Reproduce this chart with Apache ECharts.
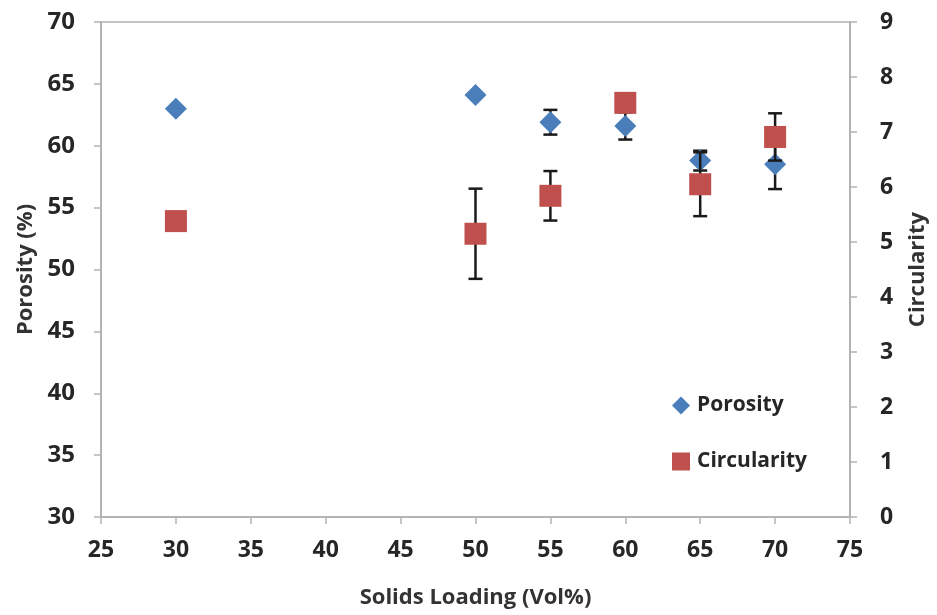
<!DOCTYPE html>
<html><head><meta charset="utf-8">
<script src="https://cdn.jsdelivr.net/npm/echarts@6/dist/echarts.min.js"></script>
<style>html,body{margin:0;padding:0;background:#fff}#c{width:937px;height:615px}</style>
</head><body><div id="c"></div>
<script>
const solids = [30, 50, 55, 60, 65, 70];
const porosity = [63.0, 64.1, 61.9, 61.6, 58.8, 58.5];
const porosityErr = [0, 0, 1.0, 1.1, 0.8, 2.0];
const circularity = [5.38, 5.15, 5.84, 7.53, 6.05, 6.91];
const circularityErr = [0, 0.82, 0.45, 0, 0.58, 0.43];
const xTicks = [25, 75, 5];
const yLeftTicks = [30, 70, 5];
const yRightTicks = [0, 9, 1];

const chart = echarts.init(document.getElementById('c'));
const axisCol = '#b3b3b3';
const FONT = 'Open Sans';
const txtCol = '#262626';

function errSeries(name, xs, ys, es, yIdx, z) {
  return {
    type: 'custom', name: name + ' err', yAxisIndex: yIdx, z: z, silent: true,
    data: xs.map((x, i) => [x, ys[i], es[i]]).filter(d => d[2] > 0),
    renderItem: function (params, api) {
      const x = api.value(0), y = api.value(1), e = api.value(2);
      const top = api.coord([x, y + e]);
      const bot = api.coord([x, y - e]);
      const hw = 7;
      const st = {stroke: '#1a1a1a', lineWidth: 2.5};
      return {type: 'group', children: [
        {type: 'line', shape: {x1: top[0], y1: top[1], x2: bot[0], y2: bot[1]}, style: st},
        {type: 'line', shape: {x1: top[0]-hw, y1: top[1], x2: top[0]+hw, y2: top[1]}, style: st},
        {type: 'line', shape: {x1: bot[0]-hw, y1: bot[1], x2: bot[0]+hw, y2: bot[1]}, style: st}
      ]};
    }
  };
}

chart.setOption({
  animation: false,
  backgroundColor: '#fff',
  grid: {left: 101, right: 84, top: 22, bottom: 98, show: true, borderColor: axisCol, borderWidth: 1.5},
  legend: {
    orient: 'vertical', left: 667, top: 390, itemGap: 35, itemWidth: 18, itemHeight: 18,
    textStyle: {fontFamily: FONT, fontWeight: 'bold', fontSize: 21, color: txtCol, padding: [0, 0, 0, 2]},
    data: [{name: 'Porosity', icon: 'diamond'}, {name: 'Circularity', icon: 'rect'}]
  },
  xAxis: {
    type: 'value', min: xTicks[0], max: xTicks[1], interval: xTicks[2],
    name: 'Solids Loading (Vol%)', nameLocation: 'middle', nameGap: 70,
    nameTextStyle: {fontFamily: FONT, fontWeight: 'bold', fontSize: 22, color: '#333'},
    axisLine: {lineStyle: {color: axisCol, width: 2}},
    axisTick: {show: true, inside: false, length: 7, lineStyle: {color: axisCol, width: 1.5}},
    axisLabel: {margin: 22, fontFamily: FONT, fontSize: 23, fontWeight: 'bold', color: txtCol},
    splitLine: {show: false}
  },
  yAxis: [{
    type: 'value', min: yLeftTicks[0], max: yLeftTicks[1], interval: yLeftTicks[2],
    name: 'Porosity (%)', nameLocation: 'middle', nameGap: 64, nameRotate: 90,
    nameTextStyle: {fontFamily: FONT, fontSize: 22, fontWeight: 'bold', color: '#333'},
    axisLine: {show: true, lineStyle: {color: axisCol, width: 2}},
    axisTick: {show: true, length: 7, lineStyle: {color: axisCol, width: 1.5}},
    axisLabel: {margin: 26, fontFamily: FONT, fontSize: 24, fontWeight: 'bold', color: txtCol},
    splitLine: {show: false}
  }, {
    type: 'value', position: 'right', min: yRightTicks[0], max: yRightTicks[1], interval: yRightTicks[2],
    name: 'Circularity', nameLocation: 'middle', nameGap: 57, nameRotate: 90,
    nameTextStyle: {fontFamily: FONT, fontSize: 22, fontWeight: 'bold', color: '#333'},
    axisLine: {show: true, lineStyle: {color: axisCol, width: 2}},
    axisTick: {show: true, length: 7, lineStyle: {color: axisCol, width: 1.5}},
    axisLabel: {margin: 30, fontFamily: FONT, fontSize: 23, fontWeight: 'bold', color: txtCol},
    splitLine: {show: false}
  }],
  series: [
    errSeries('Porosity', solids, porosity, porosityErr, 0, 2),
    {type: 'scatter', name: 'Porosity', yAxisIndex: 0, z: 3, symbol: 'diamond', symbolSize: 22,
     itemStyle: {color: '#4a7ebb', opacity: 1}, data: solids.map((x, i) => [x, porosity[i]])},
    errSeries('Circularity', solids, circularity, circularityErr, 1, 4),
    {type: 'scatter', name: 'Circularity', yAxisIndex: 1, z: 5, symbol: 'rect', symbolSize: 22,
     itemStyle: {color: '#c0504d', opacity: 1}, data: solids.map((x, i) => [x, circularity[i]])}
  ]
});
</script></body></html>
